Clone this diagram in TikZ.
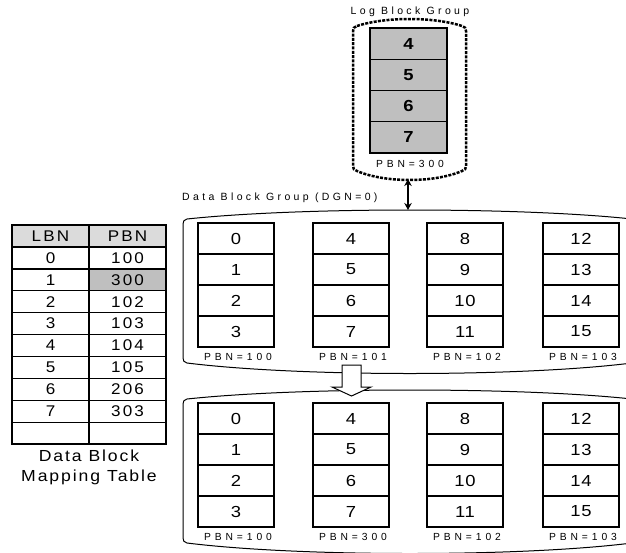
\documentclass[tikz,border=0pt]{standalone}
\usepackage{fontspec}
\setmainfont{Liberation Sans}
\newfontfamily\fcell[LetterSpace=5,FakeStretch=1.15]{Liberation Sans}
\newfontfamily\fpbn[LetterSpace=38]{Liberation Sans}
\newfontfamily\ftitle[LetterSpace=32]{Liberation Sans}
\newfontfamily\ftab[LetterSpace=14,FakeStretch=1.1]{Liberation Sans}
\newfontfamily\fcap[LetterSpace=12,FakeStretch=1.1]{Liberation Sans}
\usetikzlibrary{arrows.meta}
\definecolor{cgray}{gray}{0.75}
\definecolor{hgray}{gray}{0.86}
\tikzset{
  cellbox/.style={draw, line width=1.3pt, minimum width=76pt, minimum height=31pt, inner sep=0pt,
    font=\fcell\fontsize{16}{16}\selectfont},
  logbox/.style={cellbox, fill=cgray, minimum width=77pt, minimum height=31.25pt,
    font=\fcell\fontsize{16}{16}\selectfont\bfseries},
  tabcell/.style={draw, line width=1.3pt, minimum width=77pt, minimum height=21.9pt, inner sep=0pt,
    font=\ftab\fontsize{15.5}{15.5}\selectfont},
  pbnlabel/.style={inner sep=0pt, font=\fpbn\fontsize{10.3}{10.3}\selectfont},
  titlelabel/.style={inner sep=0pt, font=\ftitle\fontsize{10.5}{10.5}\selectfont},
  caplabel/.style={inner sep=0pt, font=\fcap\fontsize{16}{16}\selectfont},
  grp/.style={line width=1pt},
  loggrp/.style={line width=2.5pt, dash pattern=on 3pt off 1.3pt},
  dbl/.style={line width=1.5pt, {Stealth[length=7pt,width=7.5pt]}-{Stealth[length=7pt,width=7.5pt]}},
  blockarrow/.style={draw, fill=white, line width=1pt}
}
\begin{document}
\begin{tikzpicture}[x=1pt,y=-1pt]
\useasboundingbox (0,0) rectangle (626,552);

% ---------- Log block group ----------
\node[titlelabel] (logtitle) at (410,12) {Log Block Group};
\draw[loggrp] (357,26) .. controls (385,16.7) and (434,16.7) .. (462,26)
  .. controls (465,27) and (466,28) .. (466,31) -- (466,166)
  .. controls (466,169) and (465,170) .. (462,171)
  .. controls (434,183) and (385,183) .. (357,171)
  .. controls (354,170) and (353,169) .. (353,166) -- (353,31)
  .. controls (353,28) and (354,27) .. (357,26) -- cycle;
\foreach \r/\v in {0/4,1/5,2/6,3/7}{
  \node[logbox] (log\r) at (408.5,43.6+31.25*\r) {\v};
}
\node[pbnlabel] (logpbn) at (410,164) {PBN=300};
\coordinate (logbot) at (408,179);
\coordinate (dtop) at (408,210);
\draw[dbl] (logbot) -- (dtop);

% ---------- Data block groups ----------
\node[titlelabel, anchor=west] (dtitle) at (182,198) {Data Block Group (DGN=0)};

\foreach \dy in {0,180}{
  \draw[grp] (187,219+\dy) .. controls (300,207+\dy) and (520,207+\dy) .. (632,219+\dy)
    -- (632,363+\dy)
    .. controls (520,377+\dy) and (300,377+\dy) .. (187,363+\dy)
    .. controls (184,362+\dy) and (183,361+\dy) .. (183,358+\dy) -- (183,224+\dy)
    .. controls (183,221+\dy) and (184,220+\dy) .. (187,219+\dy) -- cycle;
}

\foreach \c/\x in {0/236,1/351,2/465,3/581}{
  \foreach \r in {0,1,2,3}{
    \pgfmathtruncatemacro{\num}{4*\c+\r}
    \node[cellbox] (u\c\r) at (\x,238.5+31*\r) {\num};
    \node[cellbox] (l\c\r) at (\x,418.5+31*\r) {\num};
  }
}
\foreach \c/\x/\p/\q in {0/236/100/100,1/351/101/300,2/465/102/102,3/581/103/103}{
  \node[pbnlabel] (upbn\c) at (\x+2,357) {PBN=\p};
  \node[pbnlabel] (lpbn\c) at (\x+2,537) {PBN=\q};
}

% block arrow between the groups
\draw[blockarrow] (342,365) -- (361,365) -- (361,387) -- (371,387) -- (351.5,396)
  -- (332,387) -- (342,387) -- cycle;

% ---------- Mapping table ----------
\node[tabcell, fill=hgray] (hl) at (50.5,236) {LBN};
\node[tabcell, fill=hgray] (hp) at (127.5,236) {PBN};
\foreach \r/\a/\b in {1/0/100,2/1/300,3/2/102,4/3/103,5/4/104,6/5/105,7/6/206,8/7/303,9//}{
  \node[tabcell] (tl\r) at (50.5,236+21.9*\r) {\a};
  \node[tabcell] (tp\r) at (127.5,236+21.9*\r) {\b};
}
\node[tabcell, fill=cgray] at (tp2) {300};
\node[caplabel] (cap1) at (89,456) {Data Block};
\node[caplabel] (cap2) at (89,477) {Mapping Table};
\end{tikzpicture}
\end{document}
